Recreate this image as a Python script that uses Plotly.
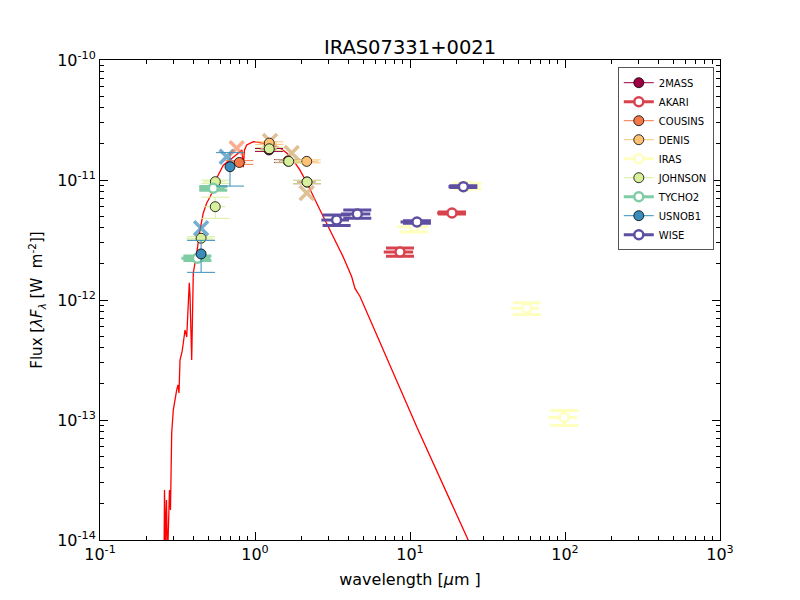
import plotly.graph_objects as go

# model spectrum (red line), wavelength in micron, lambda*F_lambda in W m^-2
MODEL_LAM = [0.2588, 0.2607, 0.2646, 0.2685, 0.2726, 0.2766, 0.2808, 0.2850, 0.2901, 0.2971,
             0.3047, 0.3125, 0.3186, 0.3234, 0.3282, 0.3381, 0.3447, 0.3535, 0.3626, 0.3713,
             0.3768, 0.3807, 0.3905, 0.3940, 0.3998, 0.4206, 0.4416, 0.4639, 0.4880, 0.5125,
             0.5383, 0.5661, 0.6245, 0.7244, 0.8000, 0.8244, 0.8404, 0.8555, 0.8841, 0.9750,
             1.077, 1.250, 1.450, 1.601, 1.759, 1.951, 2.156, 2.627, 3.186, 3.697,
             4.206, 4.416, 4.758, 6.697, 11.05, 18.12, 23.77, 26.27]
MODEL_FLUX = [6.8e-15, 2.61e-14, 9.1e-15, 2.15e-14, 6.8e-15, 1.47e-14, 2.61e-14, 1.78e-14, 7.8e-14, 1.21e-13,
              1.55e-13, 1.78e-13, 1.96e-13, 1.68e-13, 3.16e-13, 3.69e-13, 4.38e-13, 5.62e-13, 4.92e-13, 1.0e-12,
              1.39e-12, 1.10e-12, 3.16e-13, 5.96e-13, 1.68e-12, 2.46e-12, 3.83e-12, 5.31e-12, 6.43e-12, 7.22e-12,
              8.25e-12, 1.04e-11, 1.33e-11, 1.55e-11, 1.71e-11, 1.78e-11, 1.28e-11, 1.78e-11, 1.96e-11, 2.09e-11,
              2.05e-11, 1.96e-11, 1.85e-11, 1.68e-11, 1.47e-11, 1.21e-11, 9.53e-12, 5.62e-12, 3.37e-12, 2.30e-12,
              1.56e-12, 1.25e-12, 1.07e-12, 3.83e-13, 8.8e-14, 2.15e-14, 1.0e-14, 7.5e-15]

# photometry per catalogue: wavelength, flux, half band width, flux error
MASS2_LAM = [1.231, 1.633, 2.165]
MASS2_FLUX = [1.78e-11, 1.44e-11, 9.62e-12]
MASS2_DLAM = [0.15, 0.2, 0.3]
MASS2_DFLUX = [0.5e-12, 0.4e-12, 0.3e-12]

AKARI_LAM = [8.62, 18.66]
AKARI_FLUX = [2.51e-12, 5.31e-12]
AKARI_DLAM = [1.85, 3.7]
AKARI_DFLUX = [0.2e-12, 0.1e-12]

COUSINS_LAM = [0.792]
COUSINS_FLUX = [1.40e-11]
COUSINS_DLAM = [0.08]
COUSINS_DFLUX = [0.5e-12]

DENIS_LAM = [1.236, 2.156]
DENIS_FLUX = [2.03e-11, 1.43e-11]
DENIS_DLAM = [0.15, 0.4]
DENIS_DFLUX = [0.5e-12, 0.4e-12]

IRAS_LAM = [10.67, 23.5, 56.6, 98.8]
IRAS_FLUX = [4.08e-12, 8.9e-12, 8.53e-13, 1.05e-13]
IRAS_DLAM = [2.4, 4.5, 11.7, 21.0]
IRAS_DFLUX = [0.4e-12, 0.5e-12, 0.95e-13, 0.15e-13]

JOHNSON_LAM = [0.449, 0.555, 0.554, 1.236, 1.650, 2.165]
JOHNSON_FLUX = [3.27e-12, 9.68e-12, 5.99e-12, 1.82e-11, 1.43e-11, 9.62e-12]
JOHNSON_DLAM = [0.09, 0.09, 0.09, 0.15, 0.2, 0.3]
JOHNSON_DFLUX = [0.1e-12, 0.3e-12, 1.2e-12, 0.5e-12, 0.4e-12, 0.3e-12]

TYCHO2_LAM = [0.425, 0.538]
TYCHO2_FLUX = [2.23e-12, 8.53e-12]
TYCHO2_DLAM = [0.09, 0.1]
TYCHO2_DFLUX = [0.1e-12, 0.3e-12]

USNOB1_LAM = [0.449, 0.690]
USNOB1_FLUX = [2.42e-12, 1.29e-11]
USNOB1_DLAM = [0.0, 0.0]
USNOB1_DFLUX = [0.72e-12, 0.4e-11]

WISE_LAM = [3.36, 4.57, 11.09, 22.1]
WISE_FLUX = [4.64e-12, 5.21e-12, 4.47e-12, 8.8e-12]
WISE_DLAM = [0.68, 0.98, 2.4, 4.4]
WISE_DFLUX = [0.46e-12, 0.4e-12, 0.1e-12, 0.15e-12]

# points drawn with a cross (not used in the fit)
USNOB1_X_LAM = [0.449, 0.657]
USNOB1_X_FLUX = [3.96e-12, 1.56e-11]
COUSINS_X_LAM = [0.762]
COUSINS_X_FLUX = [1.84e-11]
DENIS_X_LAM = [1.25, 1.725, 2.156]
DENIS_X_FLUX = [2.11e-11, 1.68e-11, 7.8e-12]

CATALOGS = [
    # name, lam, flux, dlam, dflux, colour, open marker
    ("2MASS", MASS2_LAM, MASS2_FLUX, MASS2_DLAM, MASS2_DFLUX, "#9e0142", False),
    ("AKARI", AKARI_LAM, AKARI_FLUX, AKARI_DLAM, AKARI_DFLUX, "#d8434e", True),
    ("COUSINS", COUSINS_LAM, COUSINS_FLUX, COUSINS_DLAM, COUSINS_DFLUX, "#f57748", False),
    ("DENIS", DENIS_LAM, DENIS_FLUX, DENIS_DLAM, DENIS_DFLUX, "#fdc273", False),
    ("IRAS", IRAS_LAM, IRAS_FLUX, IRAS_DLAM, IRAS_DFLUX, "#feffbe", True),
    ("JOHNSON", JOHNSON_LAM, JOHNSON_FLUX, JOHNSON_DLAM, JOHNSON_DFLUX, "#d8ef9b", False),
    ("TYCHO2", TYCHO2_LAM, TYCHO2_FLUX, TYCHO2_DLAM, TYCHO2_DFLUX, "#80cca5", True),
    ("USNOB1", USNOB1_LAM, USNOB1_FLUX, USNOB1_DLAM, USNOB1_DFLUX, "#3a8dbb", False),
    ("WISE", WISE_LAM, WISE_FLUX, WISE_DLAM, WISE_DFLUX, "#5e4fa2", True),
]

CROSSES = [
    (USNOB1_X_LAM, USNOB1_X_FLUX, "rgba(58,141,187,0.7)"),
    (COUSINS_X_LAM, COUSINS_X_FLUX, "rgba(245,119,72,0.6)"),
    (DENIS_X_LAM, DENIS_X_FLUX, "rgba(214,178,125,0.8)"),
]

fig = go.Figure()

fig.add_trace(go.Scatter(x=MODEL_LAM, y=MODEL_FLUX, mode="lines",
                         line=dict(color="#ff0000", width=1.3), showlegend=False))

for lam, flux, col in CROSSES:
    fig.add_trace(go.Scatter(x=lam, y=flux, mode="markers", showlegend=False,
                             marker=dict(symbol="x-thin", size=14, line=dict(color=col, width=3.5))))

for name, lam, flux, dlam, dflux, col, hollow in CATALOGS:
    lw = 3 if hollow else 1
    if hollow:
        mk = dict(symbol="circle", size=9, color="white", line=dict(color=col, width=2.5))
    else:
        mk = dict(symbol="circle", size=10, color=col, line=dict(color="black", width=0.8))
    fig.add_trace(go.Scatter(
        x=lam, y=flux, mode="markers", marker=mk, showlegend=False,
        error_x=dict(type="data", array=dlam, color=col, thickness=lw, width=0),
        error_y=dict(type="data", array=dflux, color=col, thickness=lw, width=14),
    ))
    # legend entry
    fig.add_trace(go.Scatter(x=[None], y=[None], mode="lines+markers", name=name,
                             marker=mk, line=dict(color=col, width=lw)))

decades = [0.1, 1, 10, 100, 1000]
minor_x = [k * d for d in decades[:-1] for k in range(2, 10)]
ydec = [1e-14, 1e-13, 1e-12, 1e-11, 1e-10]
minor_y = [k * d for d in ydec[:-1] for k in range(2, 10)]

axis_common = dict(
    type="log", ticks="inside", ticklen=8, tickwidth=1, tickcolor="black",
    showline=True, linecolor="black", linewidth=1, mirror="allticks",
    showgrid=False, zeroline=False,
    tickfont=dict(size=16, color="black"),
)

fig.update_xaxes(
    range=[-1, 3], tickvals=decades,
    ticktext=["10<sup>-1</sup>", "10<sup>0</sup>", "10<sup>1</sup>", "10<sup>2</sup>", "10<sup>3</sup>"],
    minor=dict(tickvals=minor_x, ticks="inside", ticklen=4, tickcolor="black"),
    title=dict(text="wavelength [<i>μ</i>m ]", font=dict(size=16, color="black"), standoff=10),
    **axis_common,
)
fig.update_yaxes(
    range=[-14, -10], tickvals=ydec,
    ticktext=["10<sup>-14</sup>", "10<sup>-13</sup>", "10<sup>-12</sup>", "10<sup>-11</sup>", "10<sup>-10</sup>"],
    minor=dict(tickvals=minor_y, ticks="inside", ticklen=4, tickcolor="black"),
    title=dict(text="Flux [<i>λF<sub>λ</sub></i> [W  m<sup>-2</sup>]]", font=dict(size=15, color="black"), standoff=10),
    **axis_common,
)

# page body adds 8px offset, so margins are shifted to keep the frame at 100..720 / 60..540
fig.update_layout(
    width=800, height=600,
    margin=dict(l=92, r=88, t=52, b=68),
    paper_bgcolor="white", plot_bgcolor="white",
    font=dict(family="DejaVu Sans", color="black"),
    title=dict(text="IRAS07331+0021", x=0.5, xref="paper", y=1.0, yref="paper",
               yanchor="bottom", pad=dict(b=6), font=dict(size=19.5)),
    legend=dict(x=0.99, y=0.985, xanchor="right", yanchor="top",
                bordercolor="#555555", borderwidth=1, bgcolor="white",
                font=dict(size=10), itemwidth=30, tracegroupgap=0),
)

fig.write_html("out.html")
